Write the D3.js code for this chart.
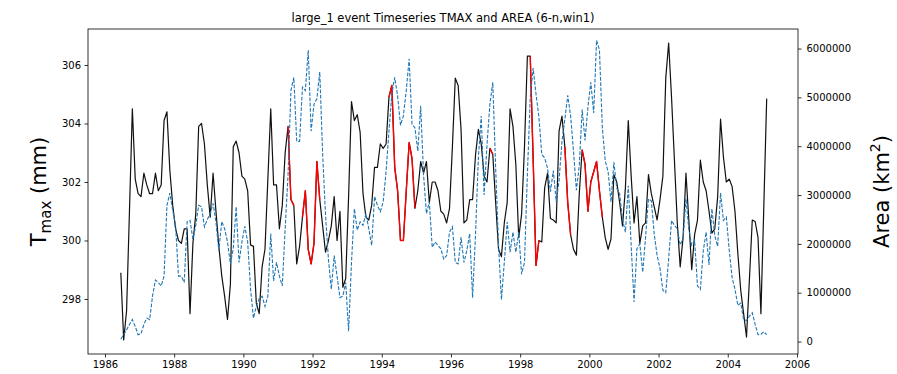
<!DOCTYPE html>
<html><head><meta charset="utf-8">
<script src="https://cdn.jsdelivr.net/npm/d3@7"></script>
<style>body{margin:0;background:#fff;} svg{display:block;font-family:"DejaVu Sans",sans-serif;}</style>
</head><body><svg id="c" width="897" height="374"></svg>
<script>
const titleText = "large_1 event Timeseries TMAX and AREA (6-n,win1)";
const startYear = 1986, startMonth = 6; // monthly series, mid-month
const tmax = [
298.9,296.6,297.6,301.0,304.5,302.1,301.6,301.5,302.3,301.9,
301.6,301.6,302.3,301.7,301.9,304.1,304.4,302.4,301.2,300.4,
300.0,299.9,300.4,300.4,297.5,299.9,300.9,303.9,304.0,303.3,
301.9,300.8,302.3,301.0,299.8,298.8,298.1,297.3,298.5,303.2,
303.4,303.0,302.2,302.1,301.7,299.85,299.8,297.85,297.5,299.1,
299.7,302.1,304.5,301.9,301.9,300.4,301.2,303.0,303.9,301.4,
301.2,299.2,299.8,300.8,301.7,299.7,299.2,299.9,302.7,301.4,
300.5,299.6,300.0,300.5,301.5,300.0,301.0,298.4,298.7,301.5,
304.75,304.1,304.3,303.7,301.6,300.8,300.7,301.2,302.5,302.5,
303.3,303.15,303.3,304.9,305.3,302.5,301.7,300.0,300.0,301.7,
303.35,302.8,301.1,301.7,302.7,302.3,302.7,301.3,302.0,302.0,
301.7,301.0,300.9,300.6,301.1,303.2,305.55,305.3,303.8,300.6,
300.7,301.4,301.4,302.9,303.8,303.3,302.2,302.0,303.15,302.95,
301.3,299.7,299.45,300.6,301.3,304.5,303.9,302.6,300.1,300.9,
303.2,306.3,306.3,302.8,299.15,300.0,299.95,301.8,302.3,300.75,
300.7,300.6,303.75,304.25,303.2,301.3,300.2,299.7,299.5,301.6,
303.1,302.6,301.0,302.0,302.35,302.7,301.7,300.8,300.1,299.7,
300.05,302.25,302.0,301.3,300.5,301.8,304.1,302.2,300.6,301.5,
299.9,300.5,300.6,302.25,301.6,301.15,300.7,301.4,302.2,305.55,
306.75,304.9,302.75,300.6,299.1,300.1,302.3,300.7,299.0,300.2,
300.7,302.75,302.0,301.7,301.0,300.25,300.4,301.5,304.15,302.85,
302.0,302.1,301.85,301.0,299.55,298.3,297.5,296.7,298.65,300.7,
300.65,300.1,297.5,301.15,304.85];
const areaMillionKm2 = [
0.05,0.14,0.24,0.35,0.45,0.31,0.14,0.16,0.35,0.48,
0.45,0.93,1.26,1.21,1.14,1.34,2.79,3.04,2.69,2.38,
1.34,1.34,1.21,2.45,2.48,2.1,2.38,2.79,2.76,2.35,
2.5,2.62,2.83,2.45,1.86,2.46,2.31,2.04,1.59,1.9,
2.76,1.62,2.04,2.36,2.04,1.07,0.48,0.72,0.88,0.93,
0.72,0.93,2.21,1.24,1.62,1.34,1.14,2.31,3.41,5.14,
5.41,4.1,4.1,5.21,5.14,5.97,4.31,4.86,4.97,5.52,
3.83,2.59,1.69,1.07,1.76,1.34,0.9,0.93,1.21,0.21,
1.62,2.72,2.28,2.45,2.38,2.62,2.31,1.97,2.97,2.79,
2.66,2.86,3.48,4.31,5.07,5.41,5.03,4.43,4.62,5.14,
5.79,4.45,4.38,3.9,4.83,3.41,2.62,2.86,1.93,2.04,
1.97,1.9,1.69,1.76,2.24,2.35,1.62,1.59,2.14,1.62,
1.86,2.21,0.9,2.17,3.76,4.62,3.0,4.03,4.86,5.31,
3.55,1.97,0.86,1.62,2.45,1.83,2.24,1.83,2.24,1.38,
1.62,3.41,5.0,5.6,5.07,4.6,3.83,3.76,3.55,3.07,
3.5,2.86,3.3,4.1,4.55,5.04,4.62,3.9,3.1,3.6,
4.75,4.12,4.8,5.31,4.68,6.17,5.97,4.38,3.7,3.48,
2.86,3.67,3.14,3.03,2.5,2.24,3.19,1.97,0.81,1.9,
2.0,1.42,2.14,2.92,2.88,2.2,1.76,1.5,1.05,1.0,
1.69,2.48,2.38,2.31,1.98,2.1,2.93,2.3,1.97,2.07,
1.14,1.07,1.86,2.24,1.57,2.72,2.17,1.95,3.04,2.48,
2.55,1.88,1.31,1.07,0.74,0.79,0.45,0.43,0.52,0.59,
0.35,0.14,0.15,0.2,0.14];
const eventRanges = [[58,60],[63,69],[93,102],[128,129],[142,145],[154,156],[160,167]];
const xTicks = [1986,1988,1990,1992,1994,1996,1998,2000,2002,2004,2006];
const yLeftTicks = [298,300,302,304,306];
const yRightTicks = [0,1000000,2000000,3000000,4000000,5000000,6000000];

const L=88, R=798, T=29, B=354;
const svg = d3.select("#c");
const x = d3.scaleLinear().domain([1985.51, 2006.03]).range([L, R]);
const yL = d3.scaleLinear().domain([296.12, 307.23]).range([B, T]);
const yR = d3.scaleLinear().domain([-254500, 6400000]).range([B, T]);
const tOf = i => startYear + (startMonth - 1 + i + 0.5) / 12;

const tData = tmax.map((v,i)=>({t:tOf(i), v}));
const aData = areaMillionKm2.map((v,i)=>({t:tOf(i), v:v*1e6}));

// black line
svg.append("path").datum(tData)
  .attr("d", d3.line().x(d=>x(d.t)).y(d=>yL(d.v)))
  .attr("fill","none").attr("stroke","#111").attr("stroke-width",1.2).attr("stroke-linejoin","round");
// red event segments
eventRanges.forEach(([a,b])=>{
  svg.append("path").datum(tData.slice(a,b+1))
    .attr("d", d3.line().x(d=>x(d.t)).y(d=>yL(d.v)))
    .attr("fill","none").attr("stroke","#ff0000").attr("stroke-width",1.4).attr("stroke-linejoin","round");
});
// blue dashed area
svg.append("path").datum(aData)
  .attr("d", d3.line().x(d=>x(d.t)).y(d=>yR(d.v)))
  .attr("fill","none").attr("stroke","#1f77b4").attr("stroke-width",1.1)
  .attr("stroke-dasharray","3.7,1.6");

// frame
svg.append("rect").attr("x",L).attr("y",T).attr("width",R-L).attr("height",B-T)
  .attr("fill","none").attr("stroke","#000").attr("stroke-width",0.8);

function style(g){
  g.select(".domain").remove();
  g.selectAll("line").attr("stroke","#000").attr("stroke-width",0.8);
  g.selectAll("text").attr("font-size","10px").attr("fill","#000").attr("font-family","DejaVu Sans, sans-serif");
}
svg.append("g").attr("transform",`translate(0,${B})`)
  .call(d3.axisBottom(x).tickValues(xTicks).tickSize(3.5).tickPadding(3.5).tickFormat(d3.format("d"))).call(style);
svg.append("g").attr("transform",`translate(${L},0)`)
  .call(d3.axisLeft(yL).tickValues(yLeftTicks).tickSize(3.5).tickPadding(3.5).tickFormat(d3.format("d"))).call(style);
svg.append("g").attr("transform",`translate(${R},0)`)
  .call(d3.axisRight(yR).tickValues(yRightTicks).tickSize(3.5).tickPadding(5).tickFormat(d3.format("d"))).call(style);

// title
svg.append("text").attr("x",(L+R)/2).attr("y",22).attr("text-anchor","middle")
  .attr("font-size","11.5px").attr("fill","#000").text(titleText);

// left label
const yl = svg.append("text").attr("transform",`translate(46,${(T+B)/2}) rotate(-90)`)
  .attr("text-anchor","middle").attr("font-size","21px").attr("fill","#000");
yl.append("tspan").text("T");
yl.append("tspan").attr("font-size","15px").attr("dy","5").text("max");
yl.append("tspan").attr("dy","-5").text(" (mm)");
// right label
const yr = svg.append("text").attr("transform",`translate(889,${(T+B)/2}) rotate(-90)`)
  .attr("text-anchor","middle").attr("font-size","21px").attr("fill","#000");
yr.append("tspan").text("Area (km");
yr.append("tspan").attr("font-size","14px").attr("dy","-9").text("2");
yr.append("tspan").attr("dy","9").text(")");
</script>
</body></html>
